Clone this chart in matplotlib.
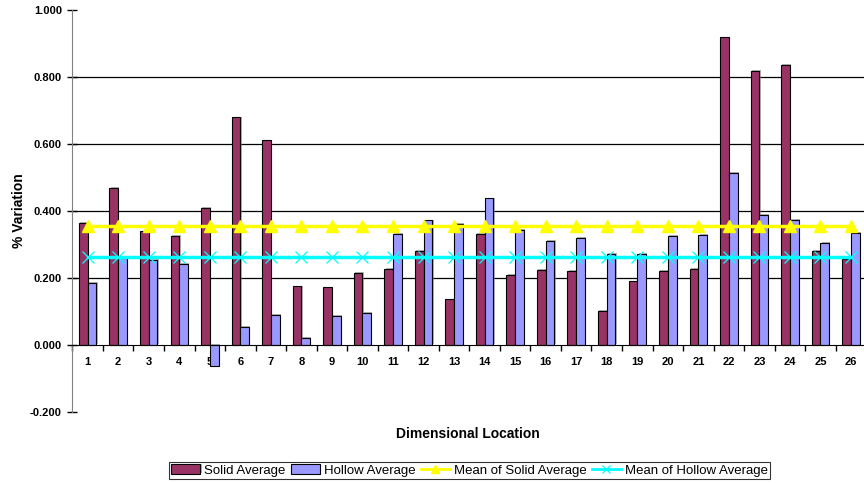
import numpy as np
import matplotlib
matplotlib.use("Agg")
import matplotlib.pyplot as plt
from matplotlib.ticker import FixedLocator, FuncFormatter
import matplotlib.patheffects as pe

plt.rcParams['font.family'] = ['Liberation Sans', 'DejaVu Sans']

# Dimensional locations 1..26
locations = [str(i) for i in range(1, 27)]

solid_average = [0.364, 0.468, 0.338, 0.324, 0.409, 0.679, 0.610, 0.174, 0.171, 0.213,
                 0.227, 0.279, 0.135, 0.332, 0.208, 0.224, 0.219, 0.100, 0.189, 0.219,
                 0.227, 0.918, 0.817, 0.837, 0.279, 0.256]
hollow_average = [0.185, 0.258, 0.254, 0.241, -0.065, 0.052, 0.088, 0.021, 0.085, 0.094,
                  0.331, 0.371, 0.361, 0.437, 0.343, 0.309, 0.319, 0.271, 0.271, 0.326,
                  0.329, 0.513, 0.387, 0.373, 0.304, 0.334]

y_ticks = [-0.2, 0.0, 0.2, 0.4, 0.6, 0.8, 1.0]
grid_values = [0.2, 0.4, 0.6, 0.8]

solid_mean = np.mean(solid_average)
hollow_mean = np.mean(hollow_average)

W, H = 864, 483
fig = plt.figure(figsize=(W / 100, H / 100), dpi=100)
left_px, right_px = 72.4, 866.3
top_px, bottom_px = 10.0, 411.5
ax = fig.add_axes([left_px / W, 1 - bottom_px / H,
                   (right_px - left_px) / W, (bottom_px - top_px) / H])

x = np.arange(1, len(locations) + 1)
bw = 1 / 3.5

for g in grid_values:
    ax.axhline(g, color='black', lw=0.9, zorder=1)

shadow = [pe.SimplePatchShadow(offset=(0.9, 0.6), shadow_rgbFace='#808080', alpha=0.6),
          pe.Normal()]

b1 = ax.bar(x - bw / 2, solid_average, width=bw, color='#993366', edgecolor='black',
            linewidth=0.8, zorder=2, label='Solid Average')
b2 = ax.bar(x + bw / 2, hollow_average, width=bw, color='#9999FF', edgecolor='black',
            linewidth=0.8, zorder=2, label='Hollow Average')
for p in list(b1) + list(b2):
    p.set_path_effects(shadow)

l1, = ax.plot(x, [solid_mean] * len(x), color='#FFFF00', lw=2.5, marker='^',
              markersize=8, markeredgecolor='#FFFF00', zorder=3,
              label='Mean of Solid Average')
l2, = ax.plot(x, [hollow_mean] * len(x), color='#00FFFF', lw=2.5, marker='x',
              markersize=8, markeredgewidth=0.9, markeredgecolor='#00FFFF', zorder=3,
              label='Mean of Hollow Average')

ax.set_xlim(0.5, len(locations) + 0.5)
ax.set_ylim(-0.2, 1.0)

ax.spines['top'].set_visible(False)
ax.spines['right'].set_visible(False)
ax.spines['left'].set_color('#808080')
ax.spines['bottom'].set_position(('data', 0))
ax.spines['bottom'].set_color('black')

ax.set_yticks(y_ticks)
ax.yaxis.set_major_formatter(FuncFormatter(lambda v, p: f"{v:.3f}"))
ax.tick_params(axis='y', direction='inout', length=7, width=1, color='black',
               labelsize=8, pad=4)
for lbl in ax.get_yticklabels():
    lbl.set_fontweight('bold')

ax.set_xticks(x)
ax.set_xticklabels(locations, fontsize=8, fontweight='bold')
ax.tick_params(axis='x', which='major', length=0, pad=9)
ax.xaxis.set_minor_locator(FixedLocator(np.arange(0.5, len(locations) + 1, 1.0)))
ax.tick_params(axis='x', which='minor', direction='out', length=4, width=1, color='black')

ax.set_ylabel('% Variation', fontsize=10, fontweight='bold', labelpad=3)
fig.text((left_px + 864) / 2 / W, 1 - 434 / H, 'Dimensional Location', fontsize=10,
         fontweight='bold', ha='center', va='center')

handles = [b1, b2, l1, l2]
labels = [h.get_label() for h in handles]
leg = fig.legend(handles, labels, loc='center', bbox_to_anchor=(469.5 / W, 1 - 470.5 / H),
                 ncol=4, fontsize=9.5, frameon=True, fancybox=False, edgecolor='black',
                 handlelength=2.2, handletextpad=0.3, columnspacing=0.4,
                 borderpad=0.2, borderaxespad=0, markerscale=0.75)
leg.get_frame().set_linewidth(0.8)
for ln in leg.get_lines():
    ln.set_linewidth(2.0)

fig.savefig('out.png', dpi=100)
